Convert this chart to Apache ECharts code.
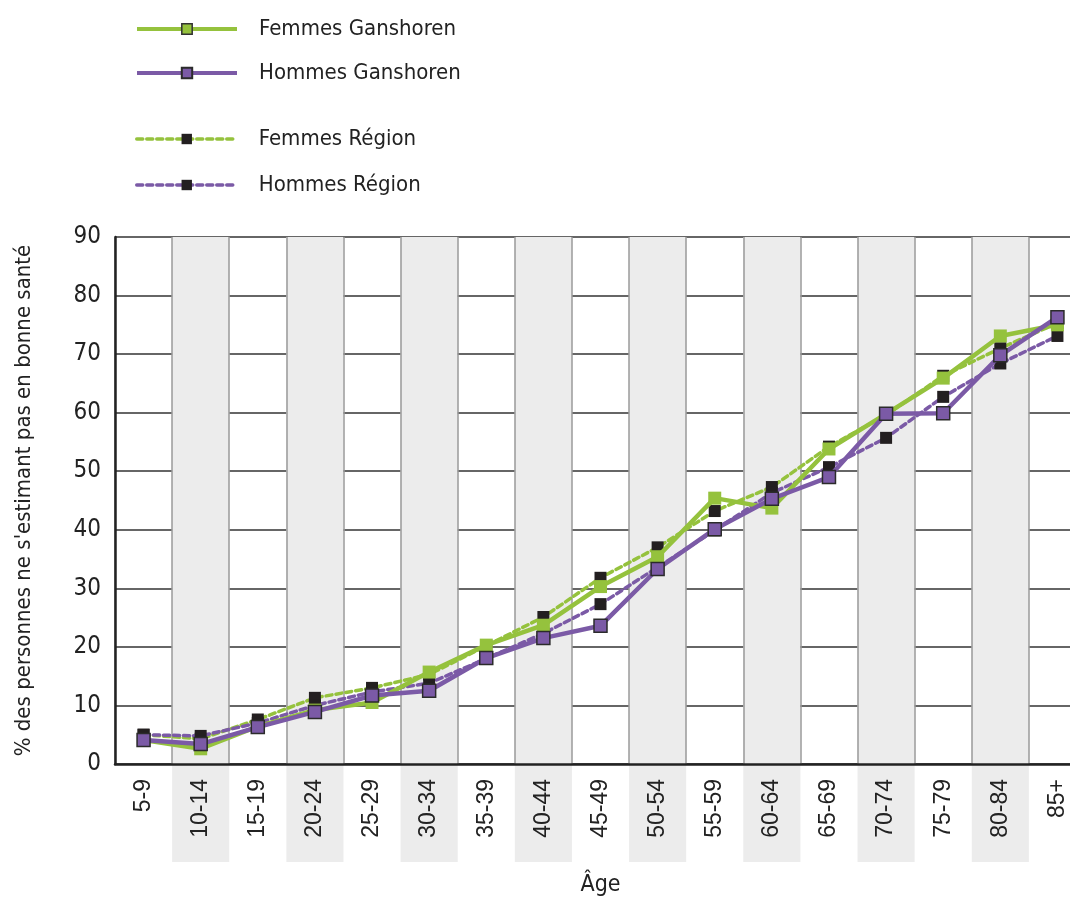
<!DOCTYPE html>
<html>
<head>
<meta charset="utf-8">
<title>Santé perçue par âge</title>
<script src="https://cdn.jsdelivr.net/npm/echarts@6/dist/echarts.min.js"></script>
<style>
    html, body { margin: 0; padding: 0; background: #fff; }
    #chart { width: 1070px; height: 899px; }
</style>
</head>
<body>
<div id="chart"></div>
<script>
// tranches d'âge
const ages = ['5-9', '10-14', '15-19', '20-24', '25-29', '30-34', '35-39', '40-44', '45-49',
    '50-54', '55-59', '60-64', '65-69', '70-74', '75-79', '80-84', '85+']

// % des personnes ne s'estimant pas en bonne santé
const femmesGanshoren = [4.1, 2.6, 6.4, 9.2, 10.5, 15.7, 20.3, 23.7, 30.3, 35.4, 45.4, 43.7, 53.8, 59.8, 65.9, 73.1, 75.0]
const hommesGanshoren = [4.1, 3.4, 6.3, 8.9, 11.7, 12.5, 18.1, 21.5, 23.6, 33.3, 40.1, 45.3, 49.0, 59.8, 59.9, 69.8, 76.3]
const femmesRegion = [5.0, 4.3, 7.6, 11.3, 13.0, 15.3, 20.2, 25.1, 31.8, 37.0, 43.2, 47.3, 54.2, 59.6, 66.3, 71.0, 75.3]
const hommesRegion = [5.0, 4.8, 7.0, 10.0, 12.3, 13.8, 18.0, 22.3, 27.3, 33.6, 39.9, 46.3, 50.7, 55.7, 62.7, 68.4, 73.1]

const yTicks = [0, 10, 20, 30, 40, 50, 60, 70, 80, 90]

const green = '#95c23d'
const purple = '#7b5aa6'
const black = '#231f20'
const narrow = "'Liberation Sans Narrow', 'DejaVu Sans Condensed', sans-serif"

const chart = echarts.init(document.getElementById('chart'))

const legendText = {
    fontFamily: narrow,
    fontSize: 22,
    color: '#222',
    lineHeight: 24,
    padding: [0, 0, 0, 17]
}

const option = {
    animation: false,
    legend: [
        {
            left: 130,
            top: 12,
            orient: 'vertical',
            itemWidth: 100,
            itemHeight: 13,
            itemGap: 20,
            textStyle: legendText,
            lineStyle: { width: 4 },
            data: [
                { name: 'Femmes Ganshoren', itemStyle: { borderColor: '#333', borderWidth: 1.5 } },
                { name: 'Hommes Ganshoren' }
            ]
        },
        {
            left: 130,
            top: 122,
            orient: 'vertical',
            itemWidth: 100,
            itemHeight: 13,
            itemGap: 22,
            textStyle: legendText,
            lineStyle: { width: 3.5 },
            data: ['Femmes Région', 'Hommes Région']
        }
    ],
    grid: [
        { left: 115, top: 237, width: 971, height: 527, outerBoundsMode: 'none' },
        // bandes grises sous l'axe (derrière les étiquettes)
        { left: 115, top: 764, width: 971, height: 98, outerBoundsMode: 'none' }
    ],
    xAxis: [
        {
            type: 'category',
            gridIndex: 0,
            data: ages,
            boundaryGap: true,
            name: 'Âge',
            nameLocation: 'middle',
            nameGap: 110,
            nameTextStyle: { fontFamily: narrow, fontSize: 23, color: '#222' },
            axisLine: { lineStyle: { color: '#222', width: 2.5 } },
            axisTick: { show: false },
            axisLabel: {
                rotate: 90,
                interval: 0,
                margin: 15,
                fontFamily: "'Liberation Sans', Arial, sans-serif",
                fontSize: 23,
                color: '#222'
            },
            splitLine: { show: true, interval: 0, lineStyle: { color: '#9a9a9a', width: 1.5 } },
            splitArea: { show: true, interval: 0, areaStyle: { color: ['rgba(0,0,0,0)', '#ececec'] } }
        },
        {
            type: 'category',
            gridIndex: 1,
            data: ages,
            boundaryGap: true,
            axisLine: { show: false },
            axisTick: { show: false },
            axisLabel: { show: false },
            splitLine: { show: false },
            splitArea: { show: true, interval: 0, areaStyle: { color: ['rgba(0,0,0,0)', '#ececec'] } }
        }
    ],
    yAxis: [
        {
            type: 'value',
            gridIndex: 0,
            min: yTicks[0],
            max: yTicks[yTicks.length - 1],
            interval: 10,
            name: "% des personnes ne s'estimant pas en bonne santé",
            nameLocation: 'middle',
            nameGap: 80,
            nameTextStyle: { fontFamily: narrow, fontSize: 22, color: '#222' },
            axisLine: { show: true, lineStyle: { color: '#222', width: 2.5 } },
            axisTick: { show: false },
            axisLabel: { margin: 14, fontFamily: narrow, fontSize: 24, color: '#222' },
            splitLine: { lineStyle: { color: '#333', width: 1.5 } }
        },
        {
            type: 'value',
            gridIndex: 1,
            show: false
        }
    ],
    series: [
        {
            name: 'Femmes Région',
            type: 'line',
            data: femmesRegion,
            symbol: 'rect',
            symbolSize: 12,
            itemStyle: { color: black },
            lineStyle: { color: green, width: 3.5, type: [6, 4], cap: 'round' },
            z: 2
        },
        {
            name: 'Hommes Région',
            type: 'line',
            data: hommesRegion,
            symbol: 'rect',
            symbolSize: 12,
            itemStyle: { color: black },
            lineStyle: { color: purple, width: 3.5, type: [6, 4], cap: 'round' },
            z: 3
        },
        {
            name: 'Femmes Ganshoren',
            type: 'line',
            data: femmesGanshoren,
            symbol: 'rect',
            symbolSize: 13,
            itemStyle: { color: green },
            lineStyle: { color: green, width: 4.5 },
            z: 4
        },
        {
            name: 'Hommes Ganshoren',
            type: 'line',
            data: hommesGanshoren,
            symbol: 'rect',
            symbolSize: 13,
            itemStyle: { color: purple, borderColor: '#2b2b2b', borderWidth: 1.5 },
            lineStyle: { color: purple, width: 4.5 },
            z: 5
        }
    ]
}

chart.setOption(option)
</script>
</body>
</html>
